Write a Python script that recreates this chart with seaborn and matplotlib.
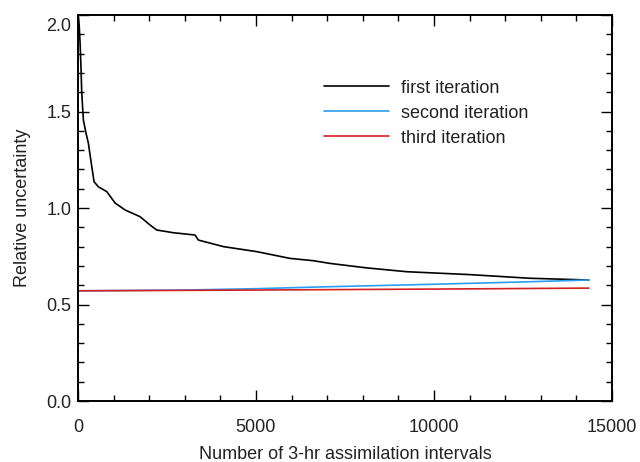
import pandas as pd
import numpy as np
import matplotlib
matplotlib.use("Agg")
import matplotlib.pyplot as plt
import matplotlib.transforms as mtransforms
from matplotlib.ticker import MultipleLocator
import seaborn as sns

# Values
first_x = [0, 30, 56, 84, 103, 149, 220, 289, 385, 450, 570, 806, 1040, 1320, 1742, 2022, 2210,
           2677, 3287, 3380, 4082, 5020, 5955, 6610, 7079, 8100, 9233, 11000, 12697, 14355]
first_y = [2.00, 1.95, 1.855, 1.715, 1.596, 1.456, 1.39, 1.336, 1.214, 1.136, 1.11, 1.085,
           1.026, 0.99, 0.955, 0.912, 0.886, 0.872, 0.860, 0.834, 0.80, 0.774, 0.739, 0.727,
           0.713, 0.69, 0.67, 0.655, 0.636, 0.627]

second_x = [0, 3000, 5000, 7000, 10000, 12500, 14355]
second_y = [0.571, 0.575, 0.582, 0.592, 0.605, 0.617, 0.627]

third_x = [0, 5000, 10000, 14355]
third_y = [0.571, 0.575, 0.580, 0.585]

labels = ["first iteration", "second iteration", "third iteration"]
colors = ["#000000", "#2a9df4", "#d42020"]

df = pd.concat([
    pd.DataFrame({"x": first_x, "y": first_y, "run": labels[0]}),
    pd.DataFrame({"x": second_x, "y": second_y, "run": labels[1]}),
    pd.DataFrame({"x": third_x, "y": third_y, "run": labels[2]}),
])

sns.set_style("ticks")
plt.rcParams["font.family"] = ["Liberation Sans", "DejaVu Sans"]
plt.rcParams["font.size"] = 13

fig = plt.figure(figsize=(6.4, 4.62), dpi=100)
ax = fig.add_axes([0.122, 0.132, 0.834, 0.8355])

sns.lineplot(data=df, x="x", y="y", hue="run", palette=dict(zip(labels, colors)),
             linewidth=1.2, sort=True, ax=ax)

ax.set_xlim(0, 15000)
ax.set_ylim(0, 2.0)
ax.xaxis.set_major_locator(MultipleLocator(5000))
ax.xaxis.set_minor_locator(MultipleLocator(1000))
ax.yaxis.set_major_locator(MultipleLocator(0.5))
ax.yaxis.set_minor_locator(MultipleLocator(0.1))
ax.yaxis.set_major_formatter(matplotlib.ticker.FormatStrFormatter("%.1f"))

ax.tick_params(which="both", direction="in", top=True, right=True, width=1,
               colors="black", labelcolor="#222222", labelsize=13)
ax.tick_params(which="major", length=8)
ax.tick_params(which="minor", length=4)
ax.tick_params(axis="x", which="major", pad=13)
ax.tick_params(axis="y", which="major", pad=5)
for sp in ax.spines.values():
    sp.set_visible(True)
    sp.set_linewidth(1.4)
    sp.set_color("black")

# nudge the top y label down like the original
for lab in ax.get_yticklabels():
    if lab.get_text() == "2.0":
        lab.set_transform(lab.get_transform() +
                          mtransforms.ScaledTranslation(0, -7 / 72, fig.dpi_scale_trans))

ax.set_xlabel("Number of 3-hr assimilation intervals", color="#222222", labelpad=7)
ax.set_ylabel("Relative uncertainty", color="#222222", labelpad=11)

ax.legend(frameon=False, loc="upper left", bbox_to_anchor=(0.43, 0.875),
          handlelength=3.6, handletextpad=0.7, labelspacing=0.45, fontsize=13,
          labelcolor="#222222")

fig.savefig("out.png", dpi=100)
